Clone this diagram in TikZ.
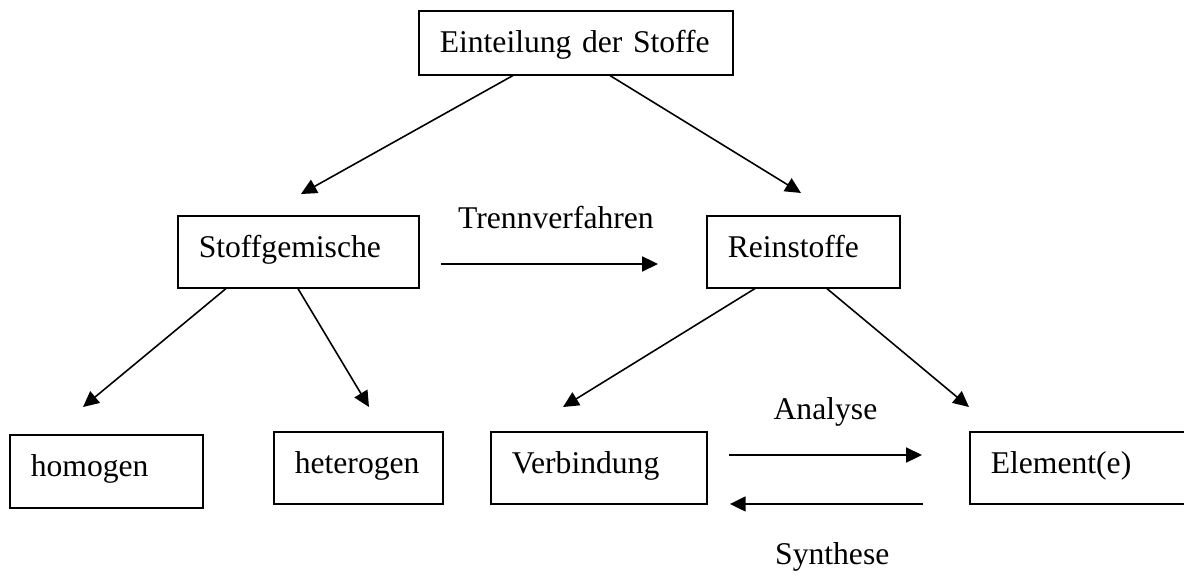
\documentclass[tikz,border=0pt,12pt]{standalone}
\usepackage{fontspec}
\setmainfont{Liberation Serif}
\usetikzlibrary{arrows.meta,positioning}

\tikzset{
  stoff/.style={draw, line width=0.6pt, anchor=north west, inner xsep=0.28cm, inner ysep=0pt,
    align=left, text height=0.553cm, text depth=0.407cm},
  pfeil/.style={-{Triangle[length=0.21cm,width=0.2cm]}, line width=0.6pt},
  beschr/.style={inner sep=0pt, anchor=base}
}

\begin{document}
\begin{tikzpicture}
    \useasboundingbox (0,0) rectangle (15.787,-7.667);

    % Kaesten
    \node[stoff, text width=3.627cm, text depth=0.3cm] (einteilung) at (5.573,-0.133) {Einteilung der Stoffe};
    \node[stoff, text width=2.653cm] (gemische) at (2.36,-2.867) {Stoffgemische};
    \node[stoff, text width=2.013cm] (reinstoffe) at (9.413,-2.867) {Reinstoffe};

    \node[stoff, text width=2.013cm, text depth=0.42cm] (homogen) at (0.12,-5.787) {homogen};
    \node[stoff, text width=1.693cm] (heterogen) at (3.64,-5.747) {heterogen};
    \node[stoff, text width=2.32cm] (verbindung) at (6.533,-5.747) {Verbindung};
    \node[stoff, text width=2.44cm] (element) at (12.92,-5.747) {Element(e)};

    % Pfeilspitzen
    \coordinate (zuGemische) at (4.013,-2.587);
    \coordinate (zuRein) at (10.68,-2.573);
    \coordinate (zuHomogen) at (1.107,-5.427);
    \coordinate (zuHetero) at (4.92,-5.427);
    \coordinate (zuVerb) at (7.507,-5.427);
    \coordinate (zuElement) at (12.92,-5.427);

    \coordinate (trennA) at (5.88,-3.52);
    \coordinate (trennB) at (8.773,-3.52);
    \coordinate (anaA) at (9.72,-6.067);
    \coordinate (anaB) at (12.293,-6.067);
    \coordinate (synA) at (12.307,-6.72);
    \coordinate (synB) at (9.733,-6.72);

    \draw[pfeil] ([xshift=1.267cm]einteilung.south west) -- (zuGemische);
    \draw[pfeil] ([xshift=2.56cm]einteilung.south west) -- (zuRein);

    \draw[pfeil] ([xshift=0.653cm]gemische.south west) -- (zuHomogen);
    \draw[pfeil] ([xshift=1.613cm]gemische.south west) -- (zuHetero);
    \draw[pfeil] ([xshift=0.653cm]reinstoffe.south west) -- (zuVerb);
    \draw[pfeil] ([xshift=1.613cm]reinstoffe.south west) -- (zuElement);

    \draw[pfeil] (trennA) -- node[beschr, pos=0.53, yshift=0.467cm] (trenn) {Trennverfahren} (trennB);
    \draw[pfeil] (anaA) -- node[beschr, pos=0.5, yshift=0.467cm] (analyse) {Analyse} (anaB);
    \draw[pfeil] (synA) -- node[beschr, pos=0.47, yshift=-0.813cm] (synthese) {Synthese} (synB);
\end{tikzpicture}
\end{document}
